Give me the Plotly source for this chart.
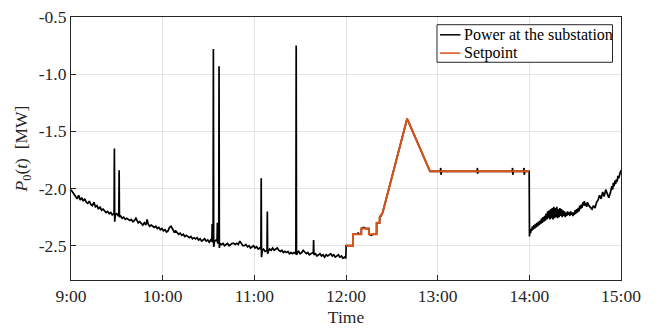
import plotly.graph_objects as go

# ---- data (minutes after 9:00, MW) ----
power_0900_1000 = [
    (0, -2.01), (1, -2.03), (2, -2.05), (3, -2.07), (4, -2.09), (5, -2.06), (6, -2.10), (7, -2.08),
    (8, -2.11), (9, -2.09), (10, -2.12), (11, -2.13), (12, -2.11), (13, -2.14), (14, -2.15), (15, -2.12),
    (16, -2.16), (17, -2.15), (18, -2.18), (19, -2.16), (20, -2.19), (21, -2.18), (22, -2.20), (23, -2.21),
    (24, -2.20), (25, -2.22), (26, -2.21), (27, -2.23), (28.2, -2.22), (28.4, -1.65), (28.6, -2.29),
    (29, -2.23), (30, -2.22), (31, -2.24), (31.3, -2.23), (31.5, -1.84), (31.7, -2.25), (32.5, -2.24),
    (33.5, -2.26), (34.5, -2.25), (35.5, -2.27), (36.5, -2.26), (37.5, -2.27), (38.5, -2.28), (39.5, -2.27),
    (40.5, -2.29), (41.5, -2.28), (42.5, -2.26), (43.3, -2.28), (44, -2.30), (45, -2.29), (46, -2.31),
    (47, -2.32), (48, -2.30), (49, -2.32), (49.8, -2.27), (50.5, -2.31), (51.5, -2.33), (52.5, -2.32),
    (53.5, -2.33), (54.5, -2.34), (55.5, -2.33), (56.5, -2.35), (57.5, -2.34), (58.5, -2.36), (59.5, -2.35),
]
power_1000_1100 = [
    (60.5, -2.37), (61.5, -2.36), (62.5, -2.38), (63.5, -2.37), (64.5, -2.34), (65.5, -2.33), (66.5, -2.36),
    (67.5, -2.38), (68.5, -2.37), (69.5, -2.39), (70.5, -2.40), (71.5, -2.39), (72.5, -2.41), (73.5, -2.40),
    (74.5, -2.42), (75.5, -2.41), (76.5, -2.42), (77.5, -2.43), (78.5, -2.42), (79.5, -2.44), (80.5, -2.43),
    (81.5, -2.44), (82.5, -2.43), (83.5, -2.45), (84.5, -2.44), (85.5, -2.46), (86.5, -2.45), (87.5, -2.44),
    (88.5, -2.46), (89.5, -2.45), (90.5, -2.47), (91.5, -2.45), (92.2, -2.46), (92.4, -2.31), (92.6, -2.47),
    (93.0, -2.46), (93.2, -0.78), (93.4, -2.51), (94, -2.46), (95, -2.45), (95.6, -2.46), (95.8, -2.30),
    (96.0, -2.48), (96.7, -2.47), (96.9, -0.93), (97.1, -2.52), (97.6, -2.48), (98.5, -2.49), (99.5, -2.48),
    (100.5, -2.50), (101.5, -2.49), (102.5, -2.48), (103.5, -2.50), (104.5, -2.49), (105.5, -2.48),
    (106.5, -2.48), (107.5, -2.49), (108.5, -2.48), (109.5, -2.49), (110.5, -2.46), (111.5, -2.48),
    (112.5, -2.50), (113.5, -2.50), (114.5, -2.49), (115.5, -2.51), (116.5, -2.50), (117.5, -2.52),
    (118.5, -2.51), (119.5, -2.50),
]
power_1100_1200 = [
    (120.5, -2.52), (121.5, -2.51), (122.5, -2.53), (123.5, -2.52), (124.3, -2.53), (124.5, -1.91),
    (124.7, -2.60), (125.2, -2.54), (126, -2.53), (127, -2.55), (128.3, -2.54), (128.5, -2.20), (128.7, -2.57),
    (129.2, -2.55), (130, -2.53), (131, -2.54), (132, -2.52), (133, -2.54), (134, -2.53), (135, -2.52),
    (136, -2.54), (137, -2.55), (138, -2.54), (139, -2.56), (140, -2.55), (141, -2.56), (142, -2.55),
    (143, -2.57), (144, -2.56), (145, -2.57), (146, -2.56), (147.2, -2.57), (147.4, -0.75), (147.6, -2.58),
    (148.2, -2.56), (149, -2.55), (150, -2.57), (151, -2.56), (152, -2.54), (153, -2.56), (154, -2.57),
    (155, -2.56), (156, -2.58), (157, -2.57), (158.6, -2.56), (158.8, -2.45), (159, -2.58), (160, -2.57),
    (161, -2.59), (162, -2.58), (163, -2.57), (164, -2.59), (165, -2.58), (166, -2.60), (167, -2.58),
    (168, -2.59), (169, -2.58), (170, -2.57), (171, -2.59), (172, -2.58), (173, -2.60), (174, -2.59),
    (175, -2.58), (176, -2.60), (177, -2.59), (178, -2.61), (179, -2.60), (179.9, -2.61),
]
power_1200_1300 = [
    (180.1, -2.50), (182, -2.50), (184.6, -2.50), (184.7, -2.40), (187.5, -2.40), (188, -2.385),
    (188.5, -2.40), (190, -2.40), (190.1, -2.35), (191.5, -2.34), (193, -2.35), (195, -2.35), (195.1, -2.40),
    (196.5, -2.41), (198, -2.40), (200, -2.40), (200.1, -2.30), (201, -2.30), (202, -2.30), (202.1, -2.25),
    (203, -2.24), (204, -2.21), (206, -2.11), (208, -2.00), (210, -1.90), (212, -1.80), (214, -1.70),
    (216, -1.60), (218, -1.49), (220, -1.39), (222, -1.45), (224, -1.51), (226, -1.57), (228, -1.63),
    (230, -1.70), (232, -1.76), (234, -1.82), (235, -1.85), (237, -1.85), (239, -1.85),
]
power_1300_1400 = [
    (240, -1.85), (241.8, -1.85), (242, -1.82), (242.2, -1.88), (242.5, -1.85), (246, -1.85),
    (250, -1.85), (252, -1.85), (256, -1.85), (260, -1.85), (264, -1.85), (265.8, -1.85), (266, -1.82),
    (266.2, -1.87), (266.5, -1.85), (270, -1.85), (274, -1.85), (278, -1.85), (282, -1.85), (286, -1.85),
    (288.8, -1.85), (289, -1.82), (289.2, -1.88), (289.5, -1.85), (293, -1.85), (296.3, -1.85),
    (296.5, -1.82), (296.7, -1.88), (297, -1.85), (299.9, -1.85),
]
power_1400_1500 = [
    (300.1, -2.42), (300.4, -2.36), (300.8, -2.39), (301.2, -2.35), (301.6, -2.37), (302, -2.33),
    (302.5, -2.36), (303, -2.32), (303.5, -2.35), (304, -2.31), (304.5, -2.34), (305, -2.30), (305.5, -2.33),
    (306, -2.29), (306.5, -2.32), (307, -2.28), (307.5, -2.31), (308, -2.26), (308.5, -2.30), (309, -2.25),
    (309.5, -2.29), (310, -2.24), (310.5, -2.28), (311, -2.22), (311.5, -2.27), (312, -2.20), (312.5, -2.26),
    (313, -2.19), (313.5, -2.27), (314, -2.18), (314.5, -2.26), (315, -2.17), (315.5, -2.27), (316, -2.16),
    (316.5, -2.26), (317, -2.17), (317.5, -2.25), (318, -2.16), (318.5, -2.26), (319, -2.18), (319.5, -2.25),
    (320, -2.17), (320.5, -2.24), (321, -2.18), (321.5, -2.25), (322, -2.19), (322.5, -2.24), (323, -2.20),
    (323.5, -2.25), (324, -2.21), (324.5, -2.24), (325, -2.20), (325.5, -2.23), (326, -2.21), (326.5, -2.24),
    (327, -2.20), (327.5, -2.23), (328, -2.21), (328.5, -2.24), (329, -2.21), (329.5, -2.23), (330, -2.19),
    (330.5, -2.22), (331, -2.18), (331.5, -2.21), (332, -2.17), (332.5, -2.20), (333, -2.15), (333.5, -2.18),
    (334, -2.14), (334.5, -2.17), (335, -2.12), (335.5, -2.15), (336, -2.11), (336.5, -2.15), (337, -2.13),
    (337.5, -2.16), (338, -2.12), (339, -2.15), (340, -2.17), (341, -2.18), (342, -2.15), (343, -2.17),
    (344, -2.12), (345, -2.10), (346, -2.06), (347, -2.09), (348, -2.03), (349, -2.07), (350, -2.01),
    (351, -2.05), (352, -2.08), (353, -2.04), (354, -1.98), (354.5, -2.01), (355, -1.95), (355.5, -1.98),
    (356, -1.93), (356.5, -1.96), (357, -1.92), (357.5, -1.94), (358, -1.89), (358.5, -1.91), (359, -1.87),
    (359.5, -1.86), (360, -1.84),
]

setpoint_min = [180, 184.6, 184.6, 190, 190, 195, 195, 200, 200, 202, 202, 204, 220, 235, 300]
setpoint_mw = [-2.50, -2.50, -2.40, -2.40, -2.35, -2.35, -2.40, -2.40, -2.30, -2.30, -2.25, -2.21,
               -1.39, -1.85, -1.85]

x_tick_vals = [9, 10, 11, 12, 13, 14, 15]
x_tick_text = ["9:00", "10:00", "11:00", "12:00", "13:00", "14:00", "15:00"]
y_tick_vals = [-2.5, -2.0, -1.5, -1.0, -0.5]
y_tick_text = ["-2.5", "-2.0", "-1.5", "-1.0", "-0.5"]
legend_names = ["Power at the substation", "Setpoint"]
legend_colors = ["black", "#D95319"]

# ---- build ----
power = (power_0900_1000 + power_1000_1100 + power_1100_1200 +
         power_1200_1300 + power_1300_1400 + power_1400_1500)
px = [9 + m / 60 for m, _ in power]
py = [v for _, v in power]
sx = [9 + m / 60 for m in setpoint_min]

FONT = "Liberation Serif, Times New Roman, serif"
AX = "#262626"

fig = go.Figure()
fig.add_trace(go.Scatter(x=px, y=py, mode="lines", name=legend_names[0],
                         line=dict(color=legend_colors[0], width=1.7), showlegend=False))
fig.add_trace(go.Scatter(x=sx, y=setpoint_mw, mode="lines", name=legend_names[1],
                         line=dict(color=legend_colors[1], width=2), showlegend=False))

axis_common = dict(showline=True, linecolor=AX, linewidth=1, mirror=True,
                   ticks="inside", ticklen=5, tickcolor=AX,
                   showgrid=True, gridcolor="#e3e3e3", gridwidth=1, zeroline=False,
                   ticklabeloverflow="allow",
                   tickfont=dict(family=FONT, size=17.5, color=AX))

fig.update_xaxes(range=[9, 15], tickvals=x_tick_vals, ticktext=x_tick_text,
                 title=dict(text="Time", font=dict(family=FONT, size=17.5, color=AX), standoff=5),
                 **axis_common)
fig.update_yaxes(range=[-2.8, -0.5], tickvals=y_tick_vals, ticktext=y_tick_text,
                 title=dict(text="<i>P</i><sub>0</sub>(<i>t</i>)  [MW]",
                            font=dict(family=FONT, size=17.5, color=AX), standoff=6),
                 **axis_common)

# custom legend box (paper coordinates of the plot area)
L, R, T, B = 71, 621, 7, 280


def pxx(v):
    return (v - L) / (R - L)


def pxy(v):
    return (B - v) / (B - T)


shapes = [dict(type="rect", xref="paper", yref="paper",
               x0=pxx(437), x1=pxx(612.5), y0=pxy(54), y1=pxy(15),
               line=dict(color=AX, width=1), fillcolor="white", layer="above")]
annotations = []
row_y = [25.5, 44.5]
for name, color, yy in zip(legend_names, legend_colors, row_y):
    shapes.append(dict(type="line", xref="paper", yref="paper",
                       x0=pxx(440), x1=pxx(460.5), y0=pxy(yy), y1=pxy(yy),
                       line=dict(color=color, width=1.5), layer="above"))
    annotations.append(dict(xref="paper", yref="paper", x=pxx(461.5), y=pxy(yy),
                            xanchor="left", yanchor="middle", text=name, showarrow=False,
                            font=dict(family=FONT, size=16, color="black")))

fig.update_layout(
    width=662, height=332,
    margin=dict(l=L, r=662 - R, t=T, b=332 - B),
    paper_bgcolor="white", plot_bgcolor="white",
    showlegend=False,
    shapes=shapes, annotations=annotations,
)

fig.write_html("out.html")
